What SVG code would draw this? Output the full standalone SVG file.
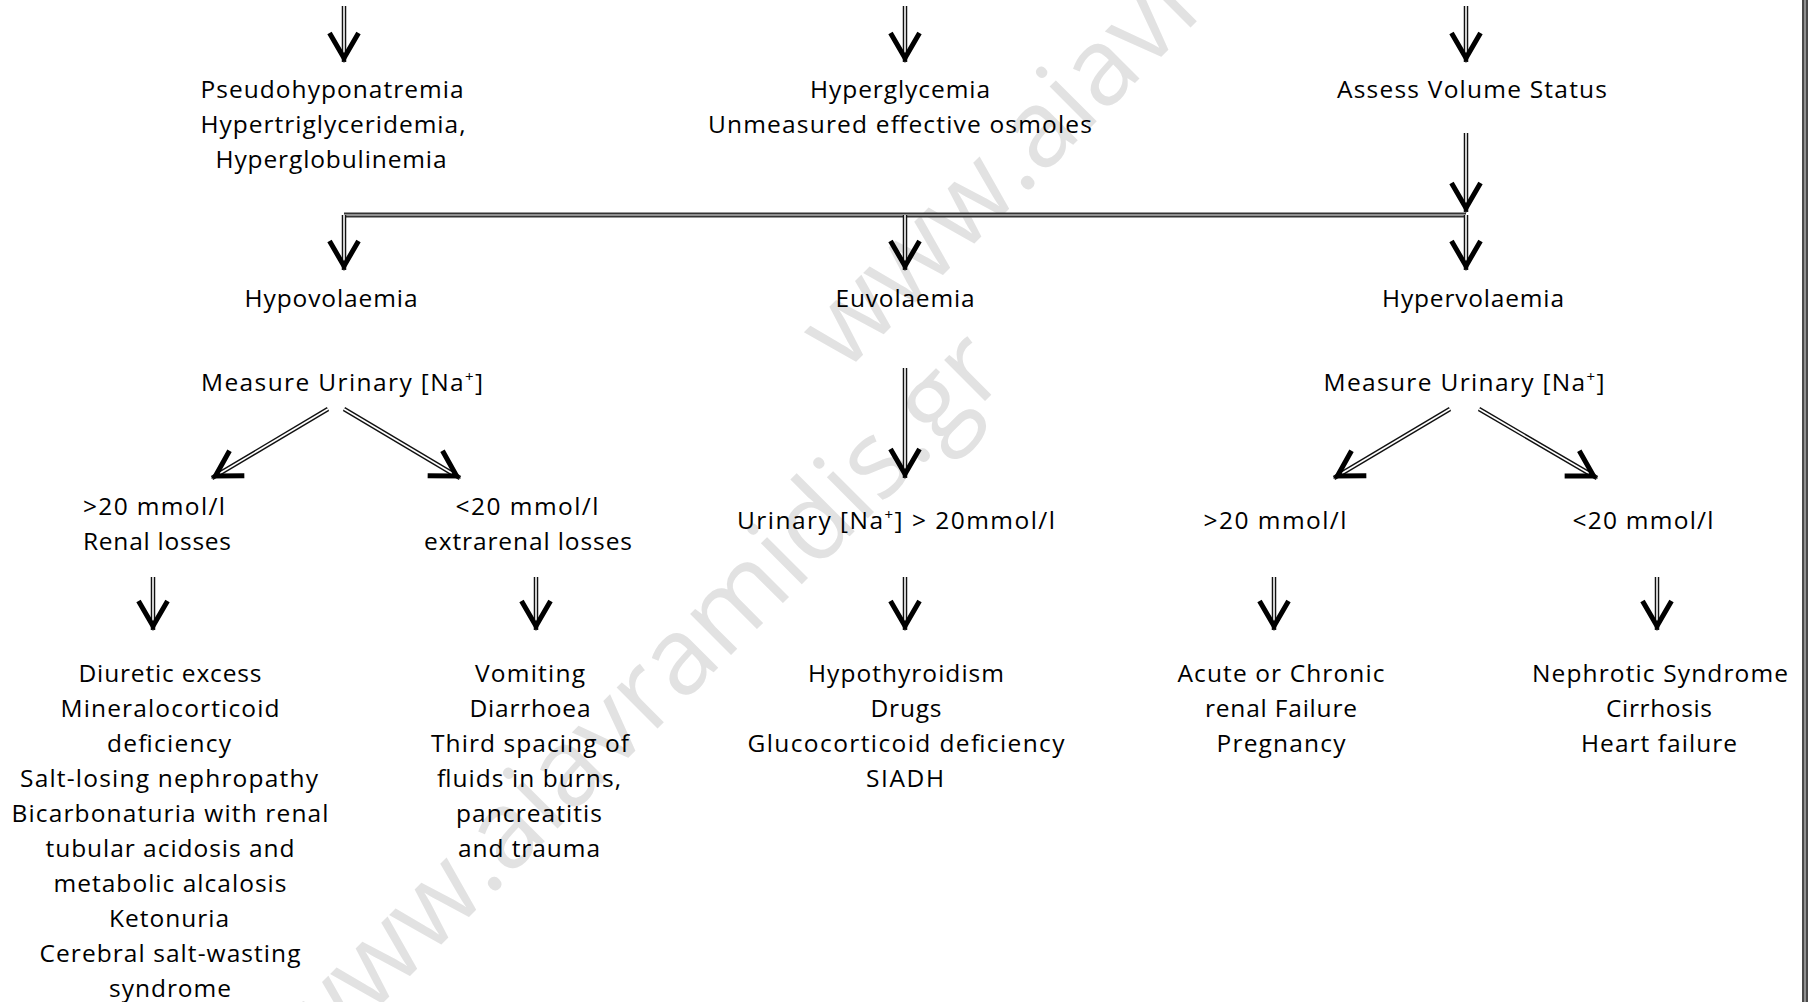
<svg xmlns="http://www.w3.org/2000/svg" width="1810" height="1002" viewBox="0 0 1810 1002">
<style>
text{font-family:"Open Sans","Liberation Sans",sans-serif;font-size:24.5px;fill:#000;text-anchor:middle}
.wm{font-size:108px;fill:#e2e2e2;text-anchor:start}
.o{stroke:#111;stroke-width:4.5;fill:none}
.i{stroke:#fff;stroke-width:1.6;fill:none;marker-end:url(#ah)}
.ho{stroke:#333;stroke-width:5;fill:none}
.hi{stroke:#b0b0b0;stroke-width:1.5;fill:none}
.sup{font-size:15px}
</style>
<defs>
<marker id="ah" markerUnits="userSpaceOnUse" orient="auto" markerWidth="44" markerHeight="44" viewBox="-36 -22 44 44" refX="0" refY="0" overflow="visible">
<path d="M -29 -14.5 L -4 0 L -29 14.5" fill="none" stroke="#000" stroke-width="5"/>
</marker>
</defs>
<rect x="0" y="0" width="1810" height="1002" fill="#fff"/>
<g id="watermark">
<text class="wm" transform="translate(311,1075) rotate(-45)">www.aiavramidis.gr</text>
<text class="wm" transform="translate(844,374) rotate(-45)">www.aiavramidis.gr</text>
</g>
<g id="connectors">
<path class="o" d="M344 6 V62"/><path class="i" d="M344 6 V62"/>
<path class="o" d="M905 6 V62"/><path class="i" d="M905 6 V62"/>
<path class="o" d="M1466 6 V62"/><path class="i" d="M1466 6 V62"/>
<path class="ho" d="M344 215 H1466"/><path class="hi" d="M344 215 H1466"/>
<path class="o" d="M1466 133 V212"/><path class="i" d="M1466 133 V212"/>
<path class="o" d="M344 215 V270"/><path class="i" d="M344 215 V270"/>
<path class="o" d="M905 215 V270"/><path class="i" d="M905 215 V270"/>
<path class="o" d="M1466 215 V270"/><path class="i" d="M1466 215 V270"/>
<path class="o" d="M328 409 L212 478"/><path class="i" d="M328 409 L212 478"/>
<path class="o" d="M344 409 L460 478"/><path class="i" d="M344 409 L460 478"/>
<path class="o" d="M905 368 V478"/><path class="i" d="M905 368 V478"/>
<path class="o" d="M1450 409 L1334 478"/><path class="i" d="M1450 409 L1334 478"/>
<path class="o" d="M1479 409 L1597 478"/><path class="i" d="M1479 409 L1597 478"/>
<path class="o" d="M153 577 V630"/><path class="i" d="M153 577 V630"/>
<path class="o" d="M536 577 V630"/><path class="i" d="M536 577 V630"/>
<path class="o" d="M905 577 V630"/><path class="i" d="M905 577 V630"/>
<path class="o" d="M1274 577 V630"/><path class="i" d="M1274 577 V630"/>
<path class="o" d="M1657 577 V630"/><path class="i" d="M1657 577 V630"/>
</g>
<g id="n-pseudo">
<text x="332" y="98" textLength="263">Pseudohyponatremia</text>
<text x="333" y="133" textLength="265">Hypertriglyceridemia,</text>
<text x="331" y="168" textLength="231">Hyperglobulinemia</text>
</g>
<g id="n-hyperglycemia">
<text x="900" y="98" textLength="180">Hyperglycemia</text>
<text x="900" y="133" textLength="384">Unmeasured effective osmoles</text>
</g>
<g id="n-assess">
<text x="1472" y="98" textLength="270">Assess Volume Status</text>
</g>
<g id="n-hypo">
<text x="331" y="307" textLength="173">Hypovolaemia</text>
</g>
<g id="n-eu">
<text x="905" y="307" textLength="139">Euvolaemia</text>
</g>
<g id="n-hyper">
<text x="1473" y="307" textLength="182">Hypervolaemia</text>
</g>
<g id="n-measure-left">
<text x="342" y="391" textLength="282">Measure Urinary [Na<tspan class="sup" dy="-9">+</tspan><tspan dy="9">]</tspan></text>
</g>
<g id="n-measure-right">
<text x="1464" y="391" textLength="281">Measure Urinary [Na<tspan class="sup" dy="-9">+</tspan><tspan dy="9">]</tspan></text>
</g>
<g id="n-renal">
<text x="154" y="515" textLength="142">&gt;20 mmol/l</text>
<text x="157" y="550" textLength="148">Renal losses</text>
</g>
<g id="n-extrarenal">
<text x="527" y="515" textLength="143">&lt;20 mmol/l</text>
<text x="528" y="550" textLength="208">extrarenal losses</text>
</g>
<g id="n-urinary-eu">
<text x="896" y="529" textLength="318">Urinary [Na<tspan class="sup" dy="-9">+</tspan><tspan dy="9">] &gt; 20mmol/l</tspan></text>
</g>
<g id="n-hyper-gt20">
<text x="1275" y="529" textLength="143">&gt;20 mmol/l</text>
</g>
<g id="n-hyper-lt20">
<text x="1643" y="529" textLength="141">&lt;20 mmol/l</text>
</g>
<g id="n-renal-causes">
<text x="170" y="682" textLength="183">Diuretic excess</text>
<text x="170" y="717" textLength="219">Mineralocorticoid</text>
<text x="169" y="752" textLength="124">deficiency</text>
<text x="169" y="787" textLength="298">Salt-losing nephropathy</text>
<text x="170" y="822" textLength="317">Bicarbonaturia with renal</text>
<text x="170" y="857" textLength="249">tubular acidosis and</text>
<text x="170" y="892" textLength="233">metabolic alcalosis</text>
<text x="169" y="927" textLength="120">Ketonuria</text>
<text x="170" y="962" textLength="261">Cerebral salt-wasting</text>
<text x="170" y="997" textLength="122">syndrome</text>
</g>
<g id="n-extrarenal-causes">
<text x="530" y="682" textLength="110">Vomiting</text>
<text x="530" y="717" textLength="121">Diarrhoea</text>
<text x="530" y="752" textLength="198">Third spacing of</text>
<text x="529" y="787" textLength="184">fluids in burns,</text>
<text x="529" y="822" textLength="146">pancreatitis</text>
<text x="529" y="857" textLength="142">and trauma</text>
</g>
<g id="n-eu-causes">
<text x="906" y="682" textLength="196">Hypothyroidism</text>
<text x="906" y="717" textLength="71">Drugs</text>
<text x="906" y="752" textLength="317">Glucocorticoid deficiency</text>
<text x="905" y="787" textLength="78">SIADH</text>
</g>
<g id="n-hyper-renal-causes">
<text x="1281" y="682" textLength="207">Acute or Chronic</text>
<text x="1281" y="717" textLength="152">renal Failure</text>
<text x="1281" y="752" textLength="129">Pregnancy</text>
</g>
<g id="n-hyper-other-causes">
<text x="1660" y="682" textLength="256">Nephrotic Syndrome</text>
<text x="1659" y="717" textLength="106">Cirrhosis</text>
<text x="1659" y="752" textLength="156">Heart failure</text>
</g>
<g id="border">
<rect x="1802" y="0" width="6" height="1002" fill="#4a4a4a"/>
<line x1="1805" y1="0" x2="1805" y2="1002" stroke="#a8a8a8" stroke-width="1.5"/>
</g>
</svg>
